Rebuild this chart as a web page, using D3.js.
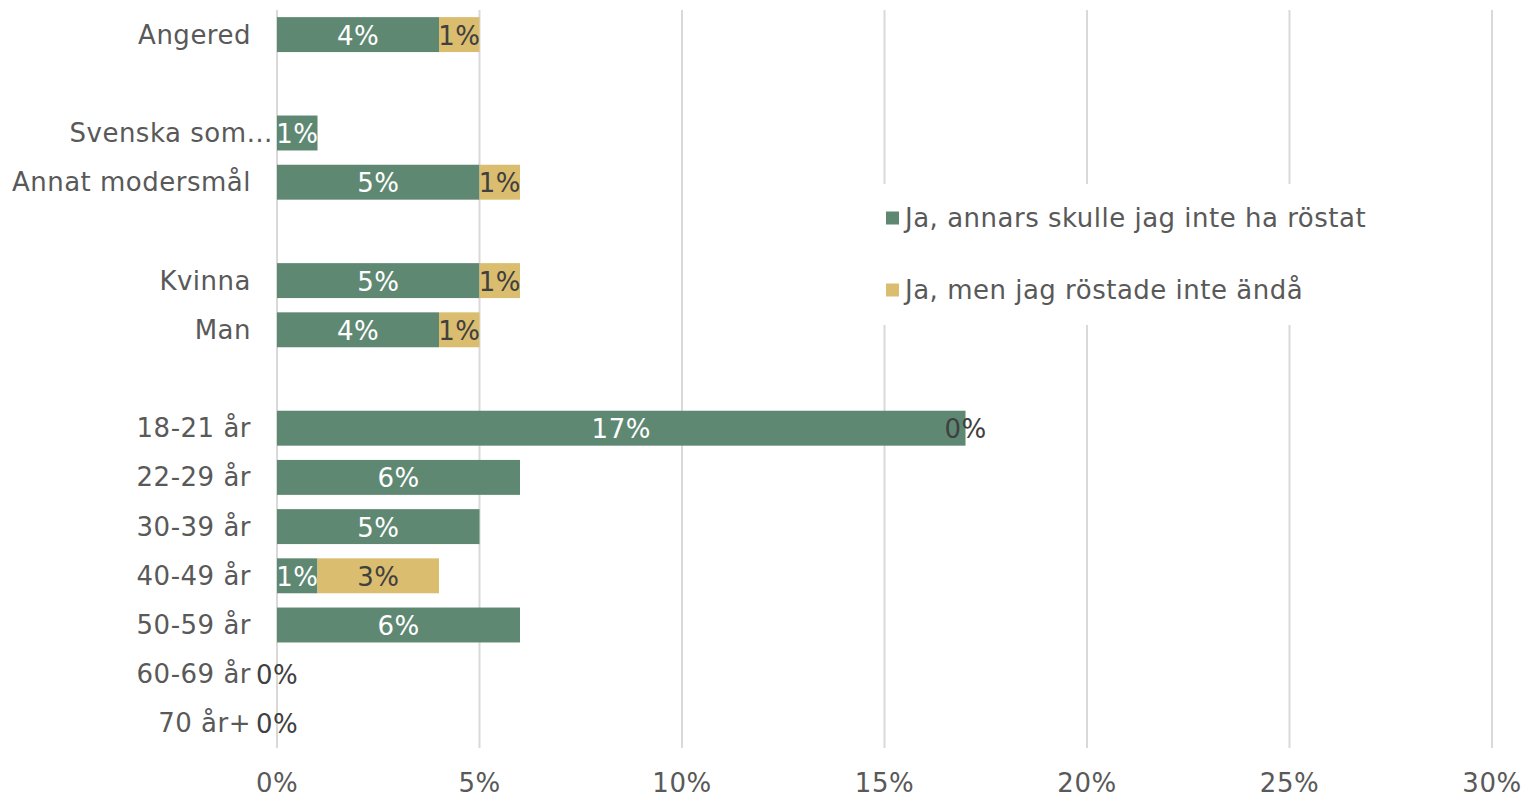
<!DOCTYPE html>
<html>
<head>
<meta charset="utf-8">
<script src="https://cdn.jsdelivr.net/npm/d3@7"></script>
<style>
  html, body { margin: 0; padding: 0; background: #fff; }
  svg { display: block; font-family: "DejaVu Sans", Verdana, sans-serif; letter-spacing: 0.5px; }
</style>
</head>
<body>
<svg id="chart" width="1530" height="798"></svg>
<script>
// Row labels (empty strings are spacer rows between groups)
const categories = ["Angered", "", "Svenska som…", "Annat modersmål", "", "Kvinna", "Man", "",
  "18-21 år", "22-29 år", "30-39 år", "40-49 år", "50-59 år", "60-69 år", "70 år+"];
// Percentages per series (null = no bar)
const jaAnnars = [4, null, 1, 5, null, 5, 4, null, 17, 6, 5, 1, 6, null, null];
const jaMen    = [1, null, null, 1, null, 1, 1, null, 0, null, null, 3, null, 0, 0];
const seriesNames = ["Ja, annars skulle jag inte ha röstat", "Ja, men jag röstade inte ändå"];
const xTicks = [0, 5, 10, 15, 20, 25, 30];

const colors = ["#5f8873", "#dbbd6f"];
const labelColors = ["#ffffff", "#404040"];
const textColor = "#595959";
const gridColor = "#d9d9d9";
const fontSize = 26;

const svg = d3.select("#chart");
const plotLeft = 277, plotRight = 1492, plotTop = 10, plotBottom = 748;

const x = d3.scaleLinear().domain([0, 30]).range([plotLeft, plotRight]);
const y = d3.scaleBand().domain(d3.range(categories.length)).range([plotTop, plotBottom])
  .paddingInner(0.29).paddingOuter(0.145);

// Vertical gridlines
svg.append("g").selectAll("line").data(xTicks).join("line")
  .attr("x1", d => x(d)).attr("x2", d => x(d))
  .attr("y1", plotTop).attr("y2", plotBottom)
  .attr("stroke", gridColor).attr("stroke-width", 2);

// X axis tick labels
svg.append("g").selectAll("text").data(xTicks).join("text")
  .attr("x", d => x(d)).attr("y", 783)
  .attr("text-anchor", "middle").attr("dominant-baseline", "central")
  .attr("fill", textColor).attr("font-size", fontSize)
  .text(d => d + "%");

// Category labels (a truncated label lets its ellipsis run toward the axis)
svg.append("g").selectAll("text").data(categories).join("text")
  .attr("x", d => d.endsWith("…") ? 273 : 251)
  .attr("y", (d, i) => y(i) + y.bandwidth() / 2)
  .attr("text-anchor", "end").attr("dominant-baseline", "central")
  .attr("fill", textColor).attr("font-size", fontSize)
  .text(d => d);

// Stacked segments
const stacked = categories.map((c, i) => {
  const a = jaAnnars[i], b = jaMen[i];
  const a0 = a == null ? 0 : a;
  return [
    { i, s: 0, v: a, x0: 0, x1: a0 },
    { i, s: 1, v: b, x0: a0, x1: a0 + (b == null ? 0 : b) }
  ];
}).flat().filter(d => d.v != null);

svg.append("g").selectAll("rect").data(stacked.filter(d => d.v > 0)).join("rect")
  .attr("x", d => x(d.x0)).attr("width", d => x(d.x1) - x(d.x0))
  .attr("y", d => y(d.i)).attr("height", y.bandwidth())
  .attr("fill", d => colors[d.s]);

// Value labels centred in each segment
svg.append("g").selectAll("text").data(stacked).join("text")
  .attr("x", d => (x(d.x0) + x(d.x1)) / 2)
  .attr("y", d => y(d.i) + y.bandwidth() / 2 + 1)
  .attr("text-anchor", "middle").attr("dominant-baseline", "central")
  .attr("fill", d => labelColors[d.s]).attr("font-size", fontSize)
  .text(d => d.v + "%");

// Legend on a white panel
const legend = svg.append("g");
legend.append("rect").attr("x", 878).attr("y", 184).attr("width", 505).attr("height", 141).attr("fill", "#fff");
const legendY = [218, 290];
seriesNames.forEach((name, k) => {
  legend.append("rect").attr("x", 886).attr("y", legendY[k] - 6.5).attr("width", 13).attr("height", 13)
    .attr("fill", colors[k]);
  legend.append("text").attr("x", 905).attr("y", legendY[k])
    .attr("dominant-baseline", "central").attr("fill", textColor).attr("font-size", fontSize)
    .text(name);
});
</script>
</body>
</html>
